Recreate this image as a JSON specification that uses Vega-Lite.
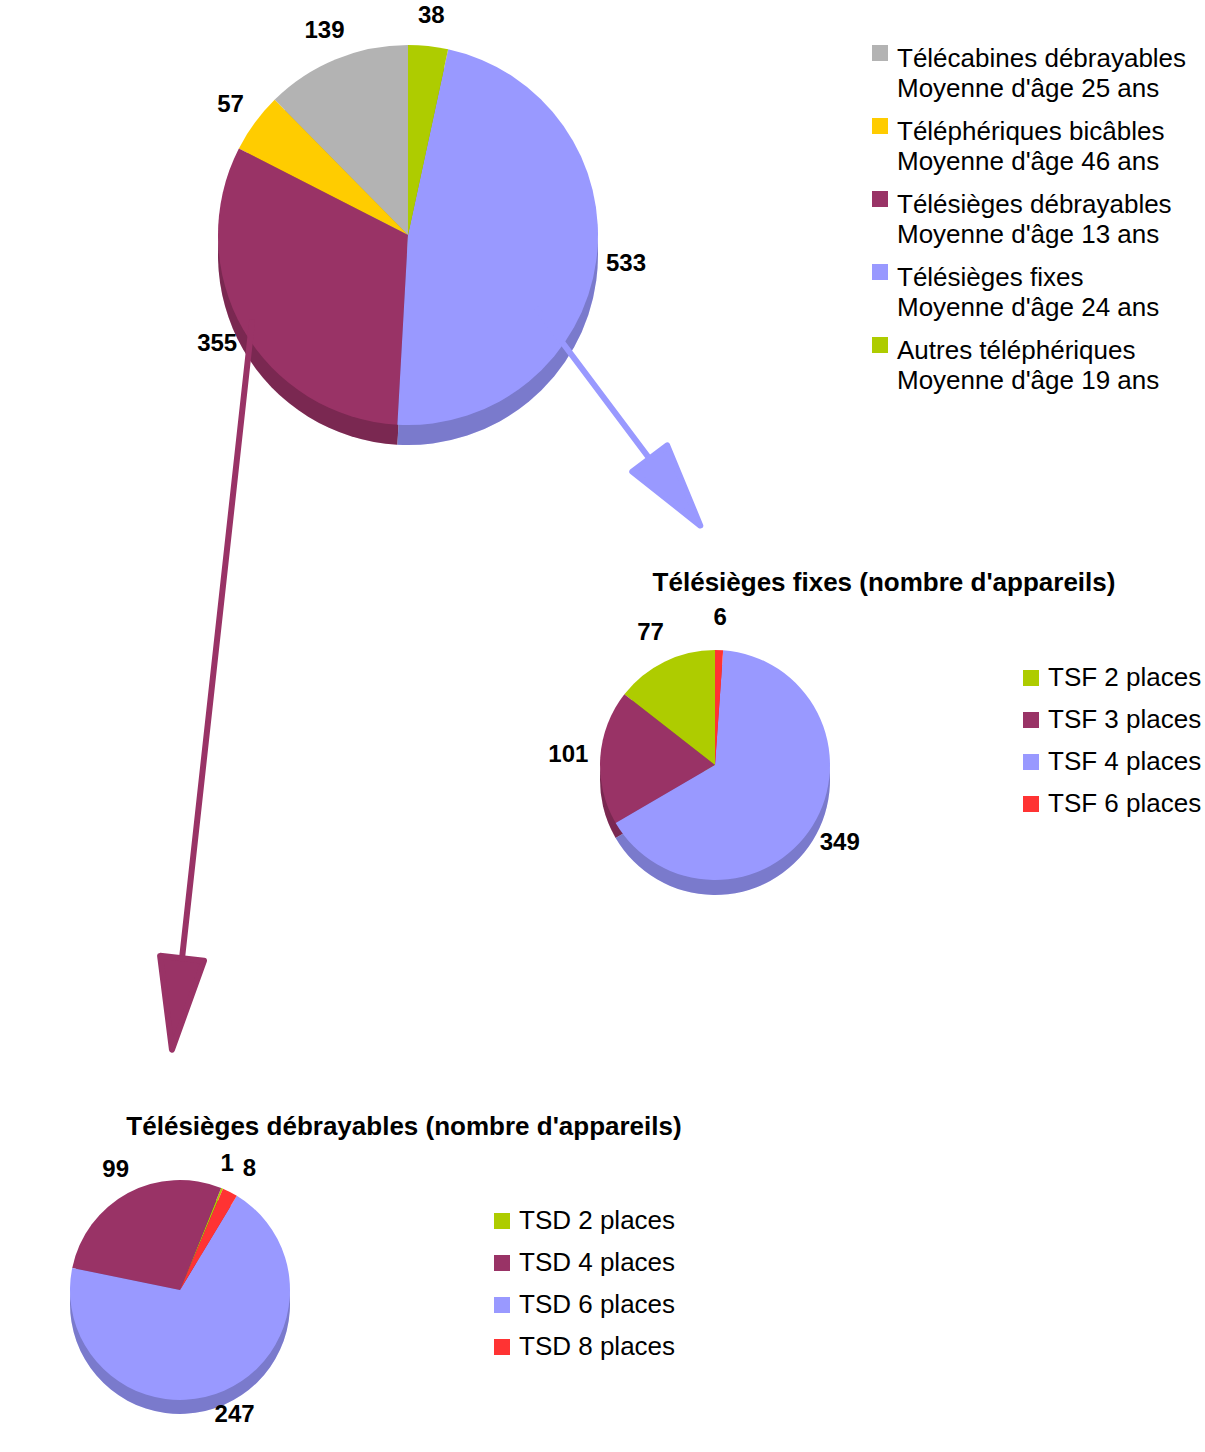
{
  "$schema": "https://vega.github.io/schema/vega-lite/v6.json",
  "width": 1205,
  "height": 1452,
  "autosize": {"type": "none"},
  "padding": 0,
  "background": "white",
  "config": {"view": {"stroke": null}, "font": "Liberation Sans"},
  "datasets": {
    "main": [
      {"i": 1, "type": "Télécabines débrayables\nMoyenne d'âge 25 ans", "n": 139},
      {"i": 2, "type": "Téléphériques bicâbles\nMoyenne d'âge 46 ans", "n": 57},
      {"i": 3, "type": "Télésièges débrayables\nMoyenne d'âge 13 ans", "n": 355},
      {"i": 4, "type": "Télésièges fixes\nMoyenne d'âge 24 ans", "n": 533},
      {"i": 5, "type": "Autres téléphériques\nMoyenne d'âge 19 ans", "n": 38}
    ],
    "tsf": [
      {"i": 1, "type": "TSF 2 places", "n": 77},
      {"i": 2, "type": "TSF 3 places", "n": 101},
      {"i": 3, "type": "TSF 4 places", "n": 349},
      {"i": 4, "type": "TSF 6 places", "n": 6}
    ],
    "tsd": [
      {"i": 1, "type": "TSD 2 places", "n": 1},
      {"i": 2, "type": "TSD 4 places", "n": 99},
      {"i": 3, "type": "TSD 6 places", "n": 247},
      {"i": 4, "type": "TSD 8 places", "n": 8}
    ],
    "titleTSF": [{"title": "Télésièges fixes (nombre d'appareils)"}],
    "titleTSD": [{"title": "Télésièges débrayables (nombre d'appareils)"}],
    "arrowTSF": [{"link": "Télésièges fixes"}],
    "arrowTSD": [{"link": "Télésièges débrayables"}]
  },
  "layer": [
    {
      "data": {"name": "main"},
      "encoding": {
        "x": {"datum": 408, "type": "quantitative", "scale": {"domain": [0, 1205], "nice": false, "zero": false}, "axis": null},
        "y": {"datum": 235, "type": "quantitative", "scale": {"domain": [0, 1452], "reverse": true, "nice": false, "zero": false}, "axis": null},
        "theta": {"field": "n", "type": "quantitative", "stack": true, "scale": {"range": [6.2832, 0]}},
        "order": {"field": "i", "type": "quantitative"},
        "color": {
          "field": "type", "type": "nominal",
          "scale": {
            "domain": ["Télécabines débrayables\nMoyenne d'âge 25 ans", "Téléphériques bicâbles\nMoyenne d'âge 46 ans", "Télésièges débrayables\nMoyenne d'âge 13 ans", "Télésièges fixes\nMoyenne d'âge 24 ans", "Autres téléphériques\nMoyenne d'âge 19 ans"],
            "range": ["#b3b3b3", "#ffcc00", "#993366", "#9999ff", "#aecc00"]
          },
          "legend": {
            "orient": "none", "legendX": 867, "legendY": 40, "title": null,
            "symbolType": "square", "symbolSize": 256, "symbolStrokeWidth": 0,
            "labelFontSize": 26, "labelColor": "black", "labelLimit": 0, "labelOffset": 4,
            "rowPadding": 11, "padding": 0,
            "labelExpr": "split(datum.label, '\\n')",
            "encode": {"labels": {"update": {"lineHeight": {"value": 30}, "dy": {"value": 6}}}}
          }
        }
      },
      "layer": [
        {"mark": {"type": "arc", "outerRadius": 190, "yOffset": 20}},
        {"mark": {"type": "arc", "outerRadius": 190, "yOffset": 20, "opacity": 0.2}, "encoding": {"color": {"value": "black"}}},
        {"mark": {"type": "arc", "outerRadius": 190}},
        {"mark": {"type": "text", "radius": 220, "fontSize": 24, "fontWeight": "bold", "align": "center", "baseline": "middle"},
         "encoding": {"text": {"field": "n", "type": "quantitative"}, "color": {"value": "black"}}}
      ]
    },
    {
      "data": {"name": "tsf"},
      "encoding": {
        "x": {"datum": 715, "type": "quantitative", "scale": {"domain": [0, 1205], "nice": false, "zero": false}, "axis": null},
        "y": {"datum": 765, "type": "quantitative", "scale": {"domain": [0, 1452], "reverse": true, "nice": false, "zero": false}, "axis": null},
        "theta": {"field": "n", "type": "quantitative", "stack": true, "scale": {"range": [6.2832, 0]}},
        "order": {"field": "i", "type": "quantitative"},
        "color": {
          "field": "type", "type": "nominal",
          "scale": {"domain": ["TSF 2 places", "TSF 3 places", "TSF 4 places", "TSF 6 places"], "range": ["#aecc00", "#993366", "#9999ff", "#ff3333"]},
          "legend": {
            "orient": "none", "legendX": 1018, "legendY": 665, "title": null,
            "symbolType": "square", "symbolSize": 256, "symbolStrokeWidth": 0,
            "labelFontSize": 26, "labelColor": "black", "labelLimit": 0, "labelOffset": 4,
            "rowPadding": 16, "padding": 0
          }
        }
      },
      "layer": [
        {"mark": {"type": "arc", "outerRadius": 115, "yOffset": 15}},
        {"mark": {"type": "arc", "outerRadius": 115, "yOffset": 15, "opacity": 0.2}, "encoding": {"color": {"value": "black"}}},
        {"mark": {"type": "arc", "outerRadius": 115}},
        {"mark": {"type": "text", "radius": 147, "fontSize": 24, "fontWeight": "bold", "align": "center", "baseline": "middle"},
         "encoding": {"text": {"field": "n", "type": "quantitative"}, "color": {"value": "black"}}}
      ]
    },
    {
      "data": {"name": "tsd"},
      "encoding": {
        "x": {"datum": 180, "type": "quantitative", "scale": {"domain": [0, 1205], "nice": false, "zero": false}, "axis": null},
        "y": {"datum": 1290, "type": "quantitative", "scale": {"domain": [0, 1452], "reverse": true, "nice": false, "zero": false}, "axis": null},
        "theta": {"field": "n", "type": "quantitative", "stack": true, "scale": {"range": [0.401, -5.882]}},
        "order": {"field": "i", "type": "quantitative"},
        "color": {
          "field": "type", "type": "nominal",
          "scale": {"domain": ["TSD 2 places", "TSD 4 places", "TSD 6 places", "TSD 8 places"], "range": ["#aecc00", "#993366", "#9999ff", "#ff3333"]},
          "legend": {
            "orient": "none", "legendX": 489, "legendY": 1208, "title": null,
            "symbolType": "square", "symbolSize": 256, "symbolStrokeWidth": 0,
            "labelFontSize": 26, "labelColor": "black", "labelLimit": 0, "labelOffset": 4,
            "rowPadding": 16, "padding": 0
          }
        }
      },
      "layer": [
        {"mark": {"type": "arc", "outerRadius": 110, "yOffset": 14}},
        {"mark": {"type": "arc", "outerRadius": 110, "yOffset": 14, "opacity": 0.2}, "encoding": {"color": {"value": "black"}}},
        {"mark": {"type": "arc", "outerRadius": 110}},
        {"mark": {"type": "text", "radius": 136, "fontSize": 24, "fontWeight": "bold", "align": "center", "baseline": "middle"},
         "encoding": {"text": {"condition": {"test": "datum.i == 1 || datum.i == 4", "value": ""}, "field": "n", "type": "quantitative"}, "color": {"value": "black"}}},
        {"mark": {"type": "text", "radius": 136, "fontSize": 24, "fontWeight": "bold", "align": "right", "baseline": "middle", "dx": 2},
         "encoding": {"text": {"condition": {"test": "datum.i != 1", "value": ""}, "field": "n", "type": "quantitative"}, "color": {"value": "black"}}},
        {"mark": {"type": "text", "radius": 136, "fontSize": 24, "fontWeight": "bold", "align": "left", "baseline": "middle", "dx": 1},
         "encoding": {"text": {"condition": {"test": "datum.i != 4", "value": ""}, "field": "n", "type": "quantitative"}, "color": {"value": "black"}}}
      ]
    },
    {
      "data": {"name": "titleTSF"},
      "mark": {"type": "text", "fontSize": 26, "fontWeight": "bold", "align": "center", "baseline": "middle", "color": "black"},
      "encoding": {
        "x": {"datum": 884, "type": "quantitative", "scale": {"domain": [0, 1205], "nice": false, "zero": false}, "axis": null},
        "y": {"datum": 583, "type": "quantitative", "scale": {"domain": [0, 1452], "reverse": true, "nice": false, "zero": false}, "axis": null},
        "text": {"field": "title", "type": "nominal"}
      }
    },
    {
      "data": {"name": "titleTSD"},
      "mark": {"type": "text", "fontSize": 26, "fontWeight": "bold", "align": "center", "baseline": "middle", "color": "black"},
      "encoding": {
        "x": {"datum": 404, "type": "quantitative", "scale": {"domain": [0, 1205], "nice": false, "zero": false}, "axis": null},
        "y": {"datum": 1127, "type": "quantitative", "scale": {"domain": [0, 1452], "reverse": true, "nice": false, "zero": false}, "axis": null},
        "text": {"field": "title", "type": "nominal"}
      }
    },
    {
      "data": {"name": "arrowTSD"},
      "layer": [
        {
          "mark": {"type": "rule", "color": "#993366", "strokeWidth": 6, "strokeCap": "round"},
          "encoding": {
            "x": {"datum": 252, "type": "quantitative", "scale": {"domain": [0, 1205], "nice": false, "zero": false}, "axis": null},
            "y": {"datum": 322, "type": "quantitative", "scale": {"domain": [0, 1452], "reverse": true, "nice": false, "zero": false}, "axis": null},
            "x2": {"datum": 177},
            "y2": {"datum": 1004}
          }
        },
        {
          "mark": {"type": "point", "shape": "M0,1L-0.48,-1L0.48,-1Z", "size": 8464, "angle": 6.3, "filled": true, "color": "#993366", "opacity": 1, "stroke": "#993366", "strokeWidth": 6, "strokeJoin": "round"},
          "encoding": {
            "x": {"datum": 177, "type": "quantitative", "scale": {"domain": [0, 1205], "nice": false, "zero": false}, "axis": null},
            "y": {"datum": 1004, "type": "quantitative", "scale": {"domain": [0, 1452], "reverse": true, "nice": false, "zero": false}, "axis": null}
          }
        }
      ]
    },
    {
      "data": {"name": "arrowTSF"},
      "layer": [
        {
          "mark": {"type": "rule", "color": "#9999ff", "strokeWidth": 6, "strokeCap": "round"},
          "encoding": {
            "x": {"datum": 538, "type": "quantitative", "scale": {"domain": [0, 1205], "nice": false, "zero": false}, "axis": null},
            "y": {"datum": 310, "type": "quantitative", "scale": {"domain": [0, 1452], "reverse": true, "nice": false, "zero": false}, "axis": null},
            "x2": {"datum": 673},
            "y2": {"datum": 490}
          }
        },
        {
          "mark": {"type": "point", "shape": "M0,1L-0.52,-1L0.52,-1Z", "size": 7056, "angle": -37, "filled": true, "color": "#9999ff", "opacity": 1, "stroke": "#9999ff", "strokeWidth": 6, "strokeJoin": "round"},
          "encoding": {
            "x": {"datum": 675, "type": "quantitative", "scale": {"domain": [0, 1205], "nice": false, "zero": false}, "axis": null},
            "y": {"datum": 492, "type": "quantitative", "scale": {"domain": [0, 1452], "reverse": true, "nice": false, "zero": false}, "axis": null}
          }
        }
      ]
    }
  ],
  "resolve": {"scale": {"color": "independent", "theta": "independent"}, "legend": {"color": "independent"}}
}
